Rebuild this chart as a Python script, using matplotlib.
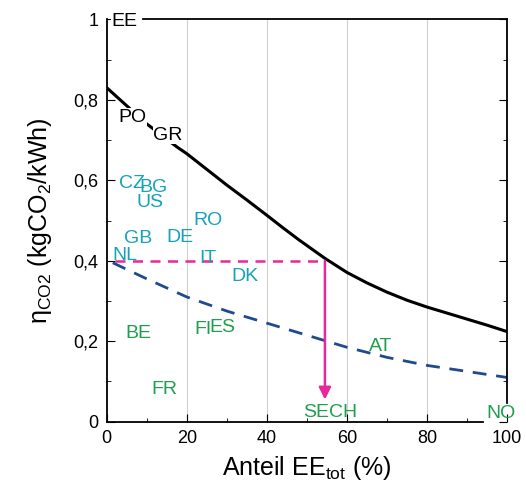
import numpy as np
import matplotlib
matplotlib.use("Agg")
import matplotlib.pyplot as plt

plt.rcParams['font.family'] = ['Liberation Sans', 'DejaVu Sans']
plt.rcParams['mathtext.fontset'] = 'custom'
plt.rcParams['mathtext.rm'] = 'Liberation Sans'

# Kurve fossil (schwarz)
x_fossil = [0, 5, 10, 17.5, 20, 25, 30, 35, 40, 44, 48, 54.5, 60, 65, 70, 75, 80, 85, 90, 95, 100]
y_fossil = [0.83, 0.785, 0.74, 0.683, 0.666, 0.627, 0.588, 0.551, 0.513, 0.482, 0.452, 0.406, 0.371,
            0.345, 0.322, 0.302, 0.285, 0.27, 0.255, 0.24, 0.224]

# Kurve blau gestrichelt
x_blau = [1.5, 10, 20, 30, 40, 50, 60, 70, 80, 90, 100]
y_blau = [0.395, 0.355, 0.31, 0.275, 0.245, 0.215, 0.185, 0.16, 0.14, 0.125, 0.11]

# Ablesebeispiel (magenta)
x_ref = [2, 54.5]
y_ref = 0.40
y_pfeil = 0.055

# Laender
laender_cyan = ['CZ', 'BG', 'US', 'GB', 'DE', 'RO', 'NL', 'IT', 'DK']
x_cyan = [6.3, 11.6, 10.8, 7.8, 18.3, 25.2, 4.5, 25.2, 34.5]
y_cyan = [0.593, 0.583, 0.546, 0.456, 0.459, 0.499, 0.414, 0.405, 0.36]

laender_gruen = ['BE', 'FI', 'ES', 'FR', 'SECH', 'AT', 'NO']
x_gruen = [7.8, 24.0, 29.0, 14.5, 55.8, 68.3, 98.5]
y_gruen = [0.22, 0.23, 0.235, 0.079, 0.024, 0.186, 0.02]

laender_schwarz = ['EE', 'PO', 'GR']
x_schwarz = [4.5, 6.5, 15.3]
y_schwarz = [0.995, 0.757, 0.712]

cyan = '#14a3b8'
gruen = '#1f9e4c'
magenta = '#e6289a'
blau = '#1f4a8f'

fig = plt.figure(figsize=(5.26, 4.95), dpi=100)
ax = fig.add_axes([0.203, 0.148, 0.761, 0.813])

ax.set_xlim(0, 100)
ax.set_ylim(0, 1)

for g in [20, 40, 60, 80]:
    ax.axvline(g, color='#d0d0d0', lw=0.8, zorder=0)

ax.plot(x_fossil, y_fossil, color='black', lw=2.2, zorder=2)
ax.plot(x_blau, y_blau, color=blau, lw=2.0, ls=(0, (5, 3.5)), zorder=2)

ax.plot(x_ref, [y_ref, y_ref], color=magenta, lw=1.8, ls=(0, (4, 3)), zorder=3)
ax.annotate('', xy=(x_ref[1], y_pfeil), xytext=(x_ref[1], y_ref),
            arrowprops=dict(arrowstyle='-|>', color=magenta, lw=1.8,
                            mutation_scale=18, shrinkA=0, shrinkB=0), zorder=3)

for t, x, y in zip(laender_cyan, x_cyan, y_cyan):
    ax.text(x, y, t, color=cyan, fontsize=14, ha='center', va='center', zorder=4)
for t, x, y in zip(laender_gruen, x_gruen, y_gruen):
    ax.text(x, y, t, color=gruen, fontsize=14, ha='center', va='center', zorder=4,
            clip_on=False)
for t, x, y in zip(laender_schwarz, x_schwarz, y_schwarz):
    ax.text(x, y, t, color='black', fontsize=14, ha='center', va='center', zorder=4,
            bbox=dict(facecolor='white', edgecolor='none', pad=0.3))

ax.spines['top'].set_bounds(9, 100)
ax.spines['bottom'].set_bounds(0, 94)
ax.spines['right'].set_bounds(0.047, 1)
for s in ax.spines.values():
    s.set_linewidth(1.3)

ax.set_xticks([0, 20, 40, 60, 80, 100])
ax.set_xticks(np.arange(0, 101, 10), minor=True)
ax.set_yticks([0, 0.2, 0.4, 0.6, 0.8, 1])
ax.set_yticks(np.arange(0, 1.01, 0.1), minor=True)
ax.set_yticklabels(['0', '0,2', '0,4', '0,6', '0,8', '1'])
ax.tick_params(which='both', direction='in', right=True, labelsize=13, pad=6)
ax.tick_params(which='major', length=6)
ax.tick_params(which='minor', length=3)

ax.set_xlabel('Anteil EE$_{\\mathrm{tot}}$ (%)', fontsize=18, labelpad=5)
ax.set_ylabel('η$_{\\mathrm{CO2}}$ (kgCO$_2$/kWh)', fontsize=18, labelpad=14)

fig.savefig('out.png', dpi=100)
